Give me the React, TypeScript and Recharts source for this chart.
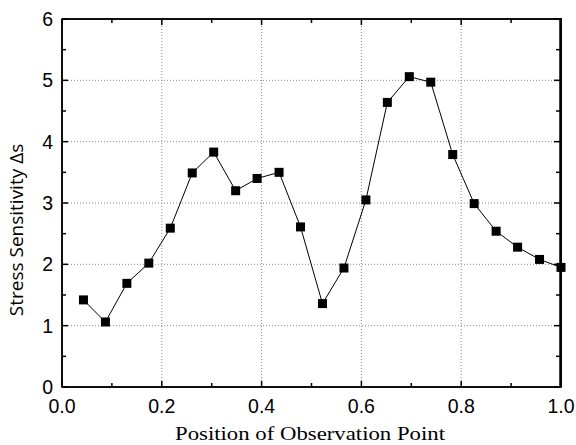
import React from "react";
import { Label, Line, LineChart, ReferenceArea, ReferenceLine, XAxis, YAxis } from "recharts";

// observation point positions and measured stress sensitivity
const positions = [0.043, 0.087, 0.13, 0.174, 0.217, 0.261, 0.304, 0.348, 0.391, 0.435, 0.478, 0.522, 0.565, 0.609, 0.652, 0.696, 0.739, 0.783, 0.826, 0.87, 0.913, 0.957, 1.0];
const sensitivity = [1.42, 1.06, 1.69, 2.02, 2.59, 3.49, 3.83, 3.2, 3.4, 3.5, 2.61, 1.36, 1.94, 3.05, 4.64, 5.06, 4.97, 3.79, 2.99, 2.54, 2.28, 2.08, 1.95];

const xTicks = [0, 0.1, 0.2, 0.3, 0.4, 0.5, 0.6, 0.7, 0.8, 0.9, 1.0];
const xMajor = [0, 0.2, 0.4, 0.6, 0.8, 1.0];
const xGrid = [0.2, 0.4, 0.6, 0.8];
const yTicks = [0, 0.5, 1, 1.5, 2, 2.5, 3, 3.5, 4, 4.5, 5, 5.5, 6];
const yMajor = [0, 1, 2, 3, 4, 5, 6];
const yGrid = [1, 2, 3, 4, 5];

const data = positions.map((x, i) => ({ x, y: sensitivity[i] }));

const tickFont = "'Liberation Sans', Arial, sans-serif";
const isMajor = (list: number[], v: number) => list.some((m) => Math.abs(m - v) < 1e-6);

const BottomTick = (p: any) => {
  const v = p.payload.value;
  const major = isMajor(xMajor, v);
  return (
    <g>
      <line x1={p.x} x2={p.x} y1={p.y} y2={p.y - (major ? 6 : 4)} stroke="#000" strokeWidth={1.5} />
      {major && (
        <text x={p.x} y={p.y + 26} textAnchor="middle" fontSize={19.5} fontFamily={tickFont} fill="#000">
          {v.toFixed(1)}
        </text>
      )}
    </g>
  );
};

const TopTick = (p: any) => {
  const major = isMajor(xMajor, p.payload.value);
  return <line x1={p.x} x2={p.x} y1={p.y} y2={p.y + (major ? 6 : 4)} stroke="#000" strokeWidth={1.5} />;
};

const LeftTick = (p: any) => {
  const v = p.payload.value;
  const major = isMajor(yMajor, v);
  return (
    <g>
      <line x1={p.x} x2={p.x + (major ? 6 : 4)} y1={p.y} y2={p.y} stroke="#000" strokeWidth={1.5} />
      {major && (
        <text x={p.x - 9} y={p.y + 7} textAnchor="end" fontSize={19.5} fontFamily={tickFont} fill="#000">
          {String(v)}
        </text>
      )}
    </g>
  );
};

const Square = (p: any) => {
  if (p.cx == null || p.cy == null) return null;
  return <rect key={p.index} x={p.cx - 4.5} y={p.cy - 4.5} width={9} height={9} fill="#000" />;
};

const YTitle = () => (
  <text
    transform="translate(23,230) rotate(-90)"
    textAnchor="middle"
    fontSize={19}
    fontFamily="'Open Sans', sans-serif"
    fill="#000"
  >
    Stress Sensitivity Δs
  </text>
);

const XTitle = () => (
  <text
    x={310}
    y={440}
    textAnchor="middle"
    fontSize={19.5}
    textLength={270}
    lengthAdjust="spacingAndGlyphs"
    fontFamily="'Liberation Serif', 'Times New Roman', serif"
    fill="#000"
  >
    Position of Observation Point
  </text>
);

const axisLine = { stroke: "#000", strokeWidth: 1.5 };

export default function App() {
  return (
    <div style={{ position: "absolute", left: 0, top: 0, width: 576, height: 445, background: "#fff" }}>
      <LineChart width={576} height={445} data={data} margin={{ top: 18, right: 15, left: 0, bottom: 0 }}>
        <XAxis
          dataKey="x"
          type="number"
          domain={[0, 1]}
          ticks={xTicks}
          interval={0}
          height={58}
          tickSize={0}
          tickMargin={0}
          tickLine={false}
          axisLine={axisLine}
          tick={BottomTick}
        >
          <Label content={XTitle} />
        </XAxis>
        <XAxis
          xAxisId="top"
          dataKey="x"
          orientation="top"
          type="number"
          domain={[0, 1]}
          ticks={xTicks}
          interval={0}
          height={1}
          tickSize={0}
          tickMargin={0}
          tickLine={false}
          axisLine={axisLine}
          tick={TopTick}
        />
        <YAxis
          dataKey="y"
          type="number"
          domain={[0, 6]}
          ticks={yTicks}
          interval={0}
          width={62}
          tickSize={0}
          tickMargin={0}
          tickLine={false}
          axisLine={axisLine}
          tick={LeftTick}
        >
          <Label content={YTitle} />
        </YAxis>
        {xGrid.map((v) => (
          <ReferenceLine key={"gx" + v} x={v} stroke="#888" strokeDasharray="1 2" />
        ))}
        {yGrid.map((v) => (
          <ReferenceLine key={"gy" + v} y={v} stroke="#888" strokeDasharray="1 2" />
        ))}
        {/* frame box and right edge */}
        <ReferenceArea x1={0} x2={1} y1={0} y2={6} fill="none" fillOpacity={0} stroke="#000" strokeWidth={1.5} ifOverflow="visible" />
        <ReferenceLine x={0.9985} stroke="#000" strokeWidth={2} ifOverflow="visible" />
        {yTicks.map((v) => (
          <ReferenceLine
            key={"rt" + v}
            segment={[{ x: 0.998, y: v }, { x: isMajor(yMajor, v) ? 0.986 : 0.99, y: v }]}
            stroke="#000"
            strokeWidth={1.5}
            ifOverflow="visible"
          />
        ))}
        <Line
          dataKey="y"
          stroke="#000"
          strokeWidth={1}
          dot={Square}
          activeDot={false}
          isAnimationActive={false}
        />
      </LineChart>
      {/* right frame edge overlay, plot area right side */}
      <div style={{ position: "absolute", left: 560, top: 18, width: 0, height: 369, borderRight: "2px solid #000" }} />
    </div>
  );
}
